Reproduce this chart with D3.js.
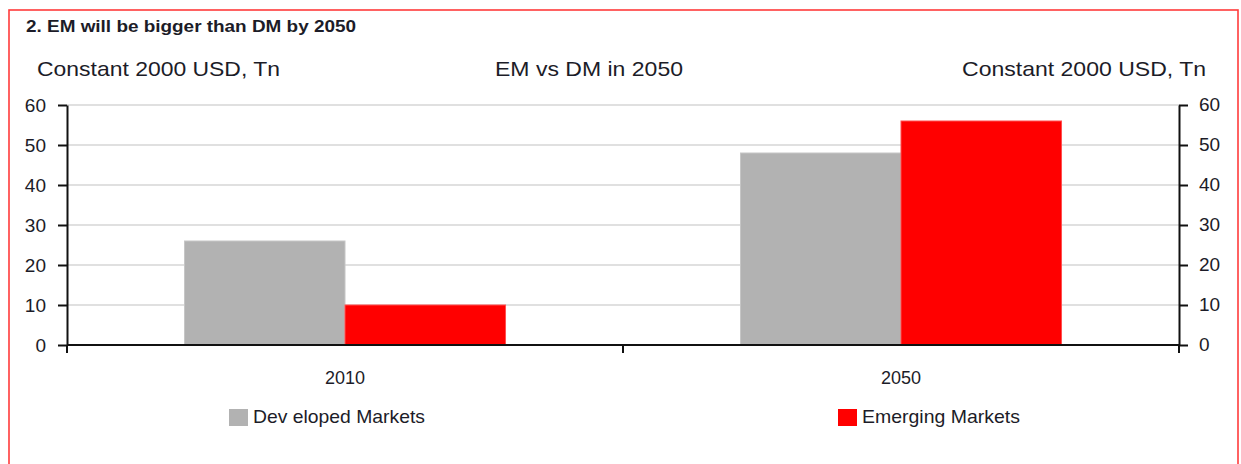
<!DOCTYPE html>
<html><head><meta charset="utf-8">
<script src="https://cdn.jsdelivr.net/npm/d3@7"></script>
<style>
html,body{margin:0;padding:0;background:#fff;}
svg{display:block;}
text{font-family:"Liberation Sans",Arial,sans-serif;fill:#1c1c28;}
</style></head>
<body>
<svg id="chart" width="1241" height="464"></svg>
<script>
const categories = ["2010", "2050"];
const seriesNames = ["Dev eloped Markets", "Emerging Markets"];
const developed = [26, 48];
const emerging = [10, 56];
const yTicks = [0, 10, 20, 30, 40, 50, 60];
const title = "2. EM will be bigger than DM by 2050";
const subtitle = "EM vs DM in 2050";
const unitLabel = "Constant 2000 USD, Tn";
const colors = ["#b2b2b2", "#ff0000"];

const svg = d3.select("#chart");
const W = 1241, H = 464;
const plot = {left: 67, right: 1179, top: 105, bottom: 345};

// outer frame
svg.append("rect").attr("x", 9).attr("y", 10).attr("width", 1229).attr("height", 470)
  .attr("fill", "none").attr("stroke", "#ff3b3b").attr("stroke-width", 1.6);

svg.append("text").attr("x", 26).attr("y", 32).attr("font-weight", "bold")
  .attr("font-size", 16.5).attr("textLength", 330).attr("lengthAdjust", "spacingAndGlyphs").text(title);
svg.append("text").attr("x", 37).attr("y", 76).attr("font-size", 21)
  .attr("textLength", 243).attr("lengthAdjust", "spacingAndGlyphs").text(unitLabel);
svg.append("text").attr("x", 962).attr("y", 76).attr("font-size", 21)
  .attr("textLength", 244).attr("lengthAdjust", "spacingAndGlyphs").text(unitLabel);
svg.append("text").attr("x", 495).attr("y", 76).attr("font-size", 21)
  .attr("textLength", 188).attr("lengthAdjust", "spacingAndGlyphs").text(subtitle);

const y = d3.scaleLinear().domain([0, 60]).range([plot.bottom, plot.top]);
const x0 = d3.scaleBand().domain(categories).range([plot.left, plot.right]).padding(0);
const x1 = d3.scaleBand().domain(seriesNames).range([0, x0.bandwidth()]).paddingInner(0).paddingOuter(0.732);

// gridlines
svg.append("g").selectAll("line").data(yTicks.filter(d => d > 0)).join("line")
  .attr("x1", plot.left).attr("x2", plot.right)
  .attr("y1", d => y(d)).attr("y2", d => y(d))
  .attr("stroke", "#d6d6d6").attr("stroke-width", 1.5);

// bars
const rows = categories.map((c, i) => ({cat: c, vals: [developed[i], emerging[i]]}));
const groups = svg.append("g").selectAll("g").data(rows).join("g")
  .attr("transform", d => `translate(${x0(d.cat)},0)`);
groups.selectAll("rect").data(d => d.vals.map((v, j) => ({name: seriesNames[j], v, j}))).join("rect")
  .attr("x", d => x1(d.name)).attr("width", x1.bandwidth())
  .attr("y", d => y(d.v)).attr("height", d => y(0) - y(d.v))
  .attr("fill", d => colors[d.j])
  .attr("stroke", d => d.j === 0 ? "#c6c6c6" : "#ff5050").attr("stroke-width", 1);

// axes
const axisStyle = g => {
  g.selectAll(".domain").attr("stroke", "#111").attr("stroke-width", 2);
  g.selectAll(".tick line").attr("stroke", "#111").attr("stroke-width", 2);
  g.selectAll(".tick text").attr("font-size", 19).attr("fill", "#1c1c28");
};
svg.append("g").attr("transform", `translate(${plot.left},0)`)
  .call(d3.axisLeft(y).tickValues(yTicks).tickSize(9).tickPadding(12).tickSizeOuter(0))
  .call(axisStyle).call(g => g.selectAll(".tick text").attr("dy", "0.36em"));
svg.append("g").attr("transform", `translate(${plot.right},0)`)
  .call(d3.axisRight(y).tickValues(yTicks).tickSize(9).tickPadding(11).tickSizeOuter(0))
  .call(axisStyle).call(g => g.selectAll(".tick text").attr("dy", "0.3em"));

const xTickScale = d3.scaleLinear().domain([0, 2]).range([plot.left, plot.right]);
const xg = svg.append("g").attr("transform", `translate(0,${plot.bottom})`);
xg.append("line").attr("x1", plot.left).attr("x2", plot.right).attr("y1", 0).attr("y2", 0)
  .attr("stroke", "#111").attr("stroke-width", 2);
xg.selectAll("line.t").data([0, 1, 2]).join("line").attr("class", "t")
  .attr("x1", d => xTickScale(d)).attr("x2", d => xTickScale(d))
  .attr("y1", 0).attr("y2", 8).attr("stroke", "#111").attr("stroke-width", 2);
xg.selectAll("text").data(categories).join("text")
  .attr("x", d => x0(d) + x0.bandwidth() / 2).attr("y", 39)
  .attr("text-anchor", "middle").attr("font-size", 18).text(d => d);

// legend
const legendX = [229, 838];
const lg = svg.append("g").selectAll("g").data(seriesNames).join("g")
  .attr("transform", (d, i) => `translate(${legendX[i]},409)`);
lg.append("rect").attr("width", 19).attr("height", 17).attr("fill", (d, i) => colors[i]);
lg.append("text").attr("x", 24).attr("y", 13.5).attr("font-size", 19)
  .attr("textLength", (d, i) => i === 0 ? 172 : 158).attr("lengthAdjust", "spacingAndGlyphs")
  .text(d => d);
</script>
</body></html>
